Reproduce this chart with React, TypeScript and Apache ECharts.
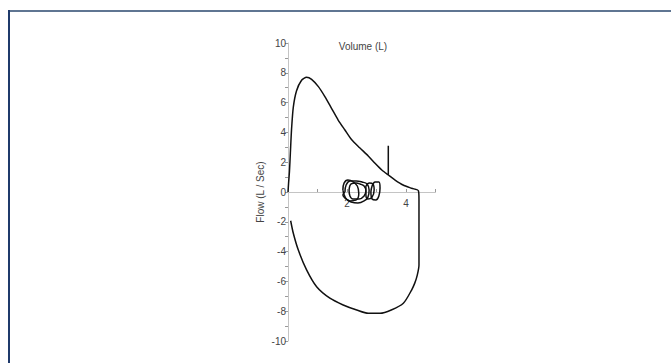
import React, { useEffect, useRef } from "react";
import * as echarts from "echarts";

// Forced expiration then inspiration: [volume (L), flow (L/s)]
const maxLoopVolume = [0.0, 0.02, 0.05, 0.08, 0.12, 0.18, 0.29, 0.46, 0.63, 0.8, 1.03, 1.25, 1.48, 1.7, 1.93, 2.16, 2.44, 2.72, 2.95, 3.18, 3.4, 3.63, 3.9, 4.19, 4.42, 4.44, 4.44, 4.38, 4.3, 4.19, 3.91, 3.5, 3.12, 2.72, 2.33, 1.87, 1.42, 0.97, 0.63, 0.35, 0.18, 0.09];
const maxLoopFlow = [0.0, 0.6, 1.4, 2.6, 4.2, 5.7, 6.8, 7.5, 7.7, 7.56, 7.07, 6.4, 5.6, 4.83, 4.16, 3.5, 2.95, 2.42, 1.93, 1.48, 1.14, 0.8, 0.47, 0.25, 0.09, -0.5, -4.9, -5.6, -6.1, -6.58, -7.47, -7.92, -8.14, -8.14, -7.92, -7.58, -7.13, -6.36, -5.23, -3.9, -2.77, -1.93];

// Artefact spike on the expiratory limb
const spikeVolume = [3.4, 3.4];
const spikeFlow = [1.14, 3.1];

// Tidal breathing loops
const tidal1Volume = [1.93, 1.97, 2.1, 2.31, 2.51, 2.68, 2.75, 2.71, 2.58, 2.37, 2.14, 1.97, 1.86, 1.93];
const tidal1Flow = [0.0, 0.47, 0.74, 0.74, 0.67, 0.54, 0.13, -0.34, -0.6, -0.74, -0.67, -0.47, -0.2, 0.0];
const tidal2Volume = [2.07, 2.14, 2.31, 2.44, 2.58, 2.64, 2.58, 2.41, 2.2, 2.1, 2.07];
const tidal2Flow = [0.13, 0.54, 0.6, 0.54, 0.4, 0.07, -0.27, -0.47, -0.47, -0.27, 0.13];
const tidal3Volume = [2.85, 2.95, 3.08, 3.12, 3.08, 2.98, 2.85, 2.81, 2.85];
const tidal3Flow = [0.4, 0.67, 0.67, 0.27, -0.27, -0.54, -0.47, 0.0, 0.4];
const tidal4Volume = [2.64, 2.75, 2.88, 2.92, 2.85, 2.71, 2.64, 2.64];
const tidal4Flow = [0.4, 0.6, 0.54, 0.13, -0.34, -0.47, -0.13, 0.4];
const tidal5Volume = [1.86, 1.9, 2.03, 2.2, 2.35, 2.4, 2.3, 2.1, 1.95, 1.86];
const tidal5Flow = [0.13, 0.6, 0.8, 0.7, 0.4, -0.1, -0.55, -0.6, -0.4, 0.13];

const xLabels = [2, 4];

const pairs = (xs: number[], ys: number[]) => xs.map((x, i) => [x, ys[i]]);

const lineSeries = (xs: number[], ys: number[], smooth: number | boolean) => ({
  type: "line",
  data: pairs(xs, ys),
  showSymbol: false,
  smooth,
  lineStyle: { color: "#111", width: 1.5 },
  silent: true,
});

const GRID_TOP = 43;
const GRID_HEIGHT = 298;
const Y_MIN = -10;
const Y_MAX = 10;
// lift the volume axis from the grid bottom up to flow = 0
const zeroOffset = -GRID_HEIGHT * (0 - Y_MIN) / (Y_MAX - Y_MIN);

export default function App() {
  const ref = useRef<HTMLDivElement>(null);

  useEffect(() => {
    if (!ref.current) return;
    const chart = echarts.init(ref.current, null, { renderer: "svg" });
    const font = "'Liberation Sans', Arial, sans-serif";
    chart.setOption({
      animation: false,
      backgroundColor: "#fff",
      grid: { left: 288, top: GRID_TOP, width: 147.5, height: GRID_HEIGHT },
      xAxis: {
        type: "value",
        min: 0,
        max: 5,
        interval: 1,
        position: "bottom",
        offset: zeroOffset,
        axisLine: { onZero: false, lineStyle: { color: "#c4c4c4", width: 1 } },
        axisTick: { show: true, length: 3, inside: true, lineStyle: { color: "#999" } },
        axisLabel: {
          margin: 6,
          fontSize: 10,
          color: "#444",
          fontFamily: font,
          formatter: (v: number) => (xLabels.includes(v) ? String(v) : ""),
        },
        splitLine: { show: false },
      },
      yAxis: {
        type: "value",
        min: Y_MIN,
        max: Y_MAX,
        interval: 2,
        name: "Flow (L / Sec)",
        nameLocation: "middle",
        nameRotate: 90,
        nameGap: 23,
        nameTextStyle: { fontSize: 10, color: "#444", fontFamily: font },
        axisLine: { show: true, onZero: false, lineStyle: { color: "#c4c4c4", width: 1 } },
        axisTick: { show: true, length: 3, lineStyle: { color: "#999" } },
        minorTick: { show: true, splitNumber: 2, length: 3, lineStyle: { color: "#999" } },
        axisLabel: { margin: 2, fontSize: 10, color: "#444", fontFamily: font },
        splitLine: { show: false },
      },
      graphic: [
        {
          type: "line",
          shape: { x1: 8, y1: 11, x2: 671, y2: 11 },
          style: { stroke: "#5f7592", lineWidth: 2 },
        },
        {
          type: "line",
          shape: { x1: 9, y1: 10, x2: 9, y2: 363 },
          style: { stroke: "#1f3a6b", lineWidth: 2 },
        },
        {
          type: "text",
          x: 363,
          y: 46,
          style: {
            text: "Volume (L)",
            fontSize: 10,
            fill: "#444",
            fontFamily: font,
            align: "center",
            verticalAlign: "middle",
          },
        },
      ],
      series: [
        lineSeries(maxLoopVolume, maxLoopFlow, 0.25),
        lineSeries(spikeVolume, spikeFlow, false),
        lineSeries(tidal1Volume, tidal1Flow, 0.4),
        lineSeries(tidal2Volume, tidal2Flow, 0.4),
        lineSeries(tidal3Volume, tidal3Flow, 0.4),
        lineSeries(tidal4Volume, tidal4Flow, 0.4),
        lineSeries(tidal5Volume, tidal5Flow, 0.4),
      ],
    });
    return () => chart.dispose();
  }, []);

  return (
    <div
      ref={ref}
      style={{ position: "fixed", left: 0, top: 0, width: 671, height: 363 }}
    />
  );
}
